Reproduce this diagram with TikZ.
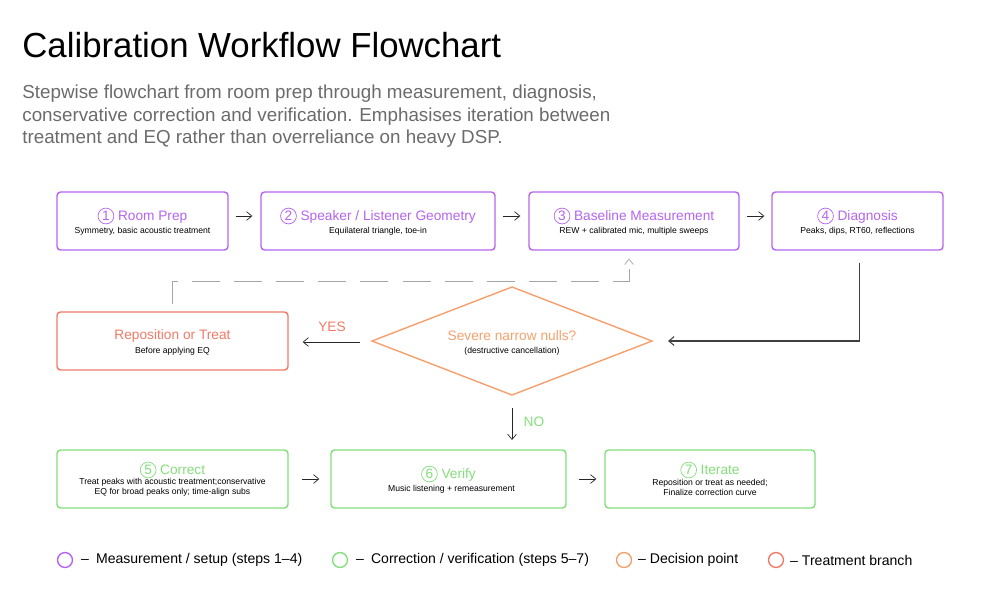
\documentclass[tikz,border=0pt]{standalone}
\usepackage{fontspec}
\setmainfont{Liberation Sans}
\usetikzlibrary{positioning,calc,shapes.geometric,arrows.meta}
\definecolor{MeasPurple}{HTML}{B565EE}
\definecolor{CorrGreen}{HTML}{84DE7C}
\definecolor{DecOrange}{HTML}{F5A06C}
\definecolor{TreatRed}{HTML}{F07A68}
\definecolor{SubGray}{HTML}{6B6B6B}
\newcommand{\stepnum}[2]{\tikz[baseline=(n.base)]\node[circle,draw=#1,thin,inner sep=0.6pt,minimum size=9pt,text=#1] (n) {#2};}
\tikzset{
    step/.style={rectangle, rounded corners=2pt, draw=#1, thick, fill=white, minimum height=1.16cm},
    head/.style={font=\fontsize{7.8}{9}\selectfont},
    sub/.style={font=\fontsize{4.9}{5.7}\selectfont},
    leg/.style={anchor=west, font=\fontsize{8}{9}\selectfont},
    flow/.style={-{Straight Barb[length=3pt,width=5pt]}, thin, black!85},
    legdot/.style={circle, draw=#1, thick, minimum size=8.5pt, inner sep=0pt}
}
\begin{document}
\begin{tikzpicture}[x=0.02cm,y=-0.02cm]
    \useasboundingbox (0,0) rectangle (1000,608);

    % --- title ---
    \node[anchor=west, inner sep=0pt, font=\fontsize{19.8}{22}\selectfont] (title) at (22,45) {Calibration Workflow Flowchart};
    \node[anchor=north west, inner sep=0pt, align=left, text=SubGray, font=\fontsize{10.7}{12.8}\selectfont] (desc) at (22,85)
        {Stepwise flowchart from room prep through measurement, diagnosis,\\
         conservative correction and verification. Emphasises iteration between\\
         treatment and EQ rather than overreliance on heavy DSP.};

    % --- row 1: measurement / setup ---
    \node[step=MeasPurple, minimum width=3.42cm] (s1) at (142.5,221) {};
    \node[step=MeasPurple, minimum width=4.68cm] (s2) at (378,221) {};
    \node[step=MeasPurple, minimum width=4.2cm]  (s3) at (634,221) {};
    \node[step=MeasPurple, minimum width=3.42cm] (s4) at (857.5,221) {};
    \node[head, text=MeasPurple] (t1) at ($(s1)+(0,-5)$) {\stepnum{MeasPurple}{1} Room Prep};
    \node[sub] at ($(s1)+(0,10)$) {Symmetry, basic acoustic treatment};
    \node[head, text=MeasPurple] (t2) at ($(s2)+(0,-5)$) {\stepnum{MeasPurple}{2} Speaker / Listener Geometry};
    \node[sub] at ($(s2)+(0,10)$) {Equilateral triangle, toe-in};
    \node[head, text=MeasPurple] (t3) at ($(s3)+(0,-5)$) {\stepnum{MeasPurple}{3} Baseline Measurement};
    \node[sub] at ($(s3)+(0,10)$) {REW + calibrated mic, multiple sweeps};
    \node[head, text=MeasPurple] (t4) at ($(s4)+(0,-5)$) {\stepnum{MeasPurple}{4} Diagnosis};
    \node[sub] at ($(s4)+(0,10)$) {Peaks, dips, RT60, reflections};

    \draw[flow] ($(s1.east)+(7,-5)$) -- ($(s2.west)+(-8,-5)$);
    \draw[flow] ($(s2.east)+(7,-5)$) -- ($(s3.west)+(-8,-5)$);
    \draw[flow] ($(s3.east)+(7,-5)$) -- ($(s4.west)+(-7,-5)$);

    % --- decision ---
    \coordinate (dW) at (372,341); \coordinate (dN) at (512,287);
    \coordinate (dE) at (652,341); \coordinate (dS) at (512,395);
    \draw[DecOrange, thick] (dW) -- (dN) -- (dE) -- (dS) -- cycle;
    \node[head, text=DecOrange] (dt) at (512,336) {Severe narrow nulls?};
    \node[sub] at (512,351) {(destructive cancellation)};

    \node[step=TreatRed, minimum width=4.62cm] (rp) at (172.5,341) {};
    \node[head, text=TreatRed] (rt) at ($(rp)+(0,-5)$) {Reposition or Treat};
    \node[sub] at ($(rp)+(0,10)$) {Before applying EQ};

    \draw[flow, black!75, semithick] ($(s4.south)+(2,12)$) |- ($(dE)+(16,0)$);
    \draw[flow] ($(dW)+(-12,1)$) -- ($(rp.east)+(14,1)$);
    \node[head, text=TreatRed] (yes) at (332,327) {YES};
    \draw[flow, gray!70, dash pattern=on 16pt off 8pt] ($(rp.north)+(0,-7)$) -- ++(0,-23) -| ($(s3.south)+(-5,8)$);
    \draw[flow] ($(dS)+(0,13)$) -- ($(dS)+(0,45)$);
    \node[head, text=CorrGreen] (no) at (534,422) {NO};

    % --- row 3: correction / verification ---
    \node[step=CorrGreen, minimum width=4.62cm] (s5) at (172.5,479) {};
    \node[step=CorrGreen, minimum width=4.7cm]  (s6) at (448.5,479) {};
    \node[step=CorrGreen, minimum width=4.2cm]  (s7) at (710,479) {};
    \node[head, text=CorrGreen] (t5) at ($(s5)+(0,-9)$) {\stepnum{CorrGreen}{5} Correct};
    \node[sub, align=center] at ($(s5)+(0,8)$) {Treat peaks with acoustic treatment;conservative\\EQ for broad peaks only; time-align subs};
    \node[head, text=CorrGreen] (t6) at ($(s6)+(0,-5)$) {\stepnum{CorrGreen}{6} Verify};
    \node[sub] at ($(s6)+(3,10)$) {Music listening + remeasurement};
    \node[head, text=CorrGreen] (t7) at ($(s7)+(0,-9)$) {\stepnum{CorrGreen}{7} Iterate};
    \node[sub, align=center] at ($(s7)+(0,8)$) {Reposition or treat as needed;\\Finalize correction curve};
    \draw[flow] ($(s5.east)+(13,0)$) -- ($(s6.west)+(-11,0)$);
    \draw[flow] ($(s6.east)+(12,0)$) -- ($(s7.west)+(-8,0)$);

    % --- legend ---
    \node[legdot=MeasPurple] (l1) at (65,560) {};
    \node[leg] at (75,560) {--\enspace Measurement / setup (steps 1--4)};
    \node[legdot=CorrGreen] (l2) at (340,560) {};
    \node[leg] at (350,560) {--\enspace Correction / verification (steps 5--7)};
    \node[legdot=DecOrange] (l3) at (624,560) {};
    \node[leg] at (632,560) {-- Decision point};
    \node[legdot=TreatRed] (l4) at (776,560) {};
    \node[leg] at (784,560) {-- Treatment branch};
\end{tikzpicture}
\end{document}
